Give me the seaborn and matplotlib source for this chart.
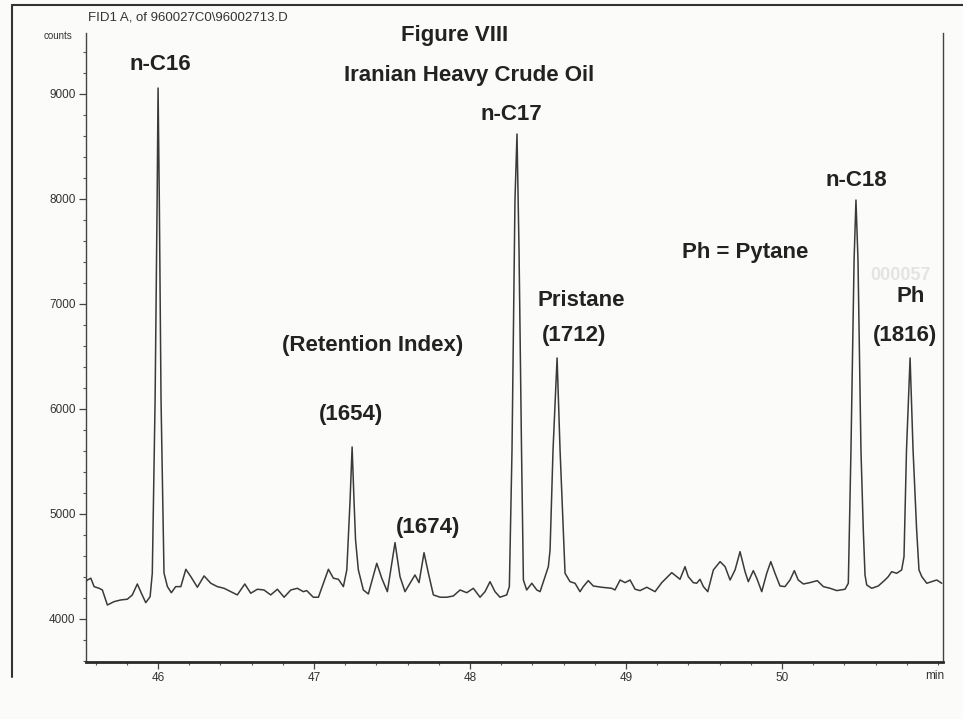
import numpy as np
import pandas as pd
import matplotlib
matplotlib.use("Agg")
import matplotlib.pyplot as plt
from matplotlib.ticker import MultipleLocator, FixedLocator
import seaborn as sns

# ---------------- data ----------------
retention_time_min = [
    45.540, 45.547, 45.569, 45.590, 45.622, 45.643, 45.675, 45.718, 45.761, 45.803,
    45.835, 45.867, 45.893, 45.921, 45.949, 45.963, 45.981, 45.994, 46.000, 46.008,
    46.019, 46.038, 46.060, 46.085, 46.113, 46.146, 46.178, 46.210, 46.252, 46.295,
    46.338, 46.380, 46.423, 46.466, 46.508, 46.556, 46.594, 46.637, 46.679, 46.722,
    46.765, 46.808, 46.851, 46.893, 46.931, 46.953, 46.995, 47.028, 47.060, 47.092,
    47.124, 47.156, 47.188, 47.210, 47.231, 47.244, 47.256, 47.266, 47.284, 47.316,
    47.348, 47.402, 47.434, 47.470, 47.519, 47.551, 47.583, 47.615, 47.647, 47.673,
    47.705, 47.733, 47.765, 47.808, 47.851, 47.893, 47.936, 47.979, 48.021, 48.064,
    48.096, 48.128, 48.160, 48.192, 48.235, 48.252, 48.269, 48.288, 48.301, 48.314,
    48.330, 48.342, 48.363, 48.396, 48.428, 48.449, 48.481, 48.502, 48.513, 48.532,
    48.558, 48.577, 48.598, 48.609, 48.641, 48.673, 48.705, 48.726, 48.758, 48.790,
    48.844, 48.908, 48.929, 48.962, 48.994, 49.026, 49.058, 49.090, 49.133, 49.165,
    49.186, 49.229, 49.293, 49.325, 49.346, 49.378, 49.399, 49.431, 49.453, 49.474,
    49.496, 49.524, 49.560, 49.603, 49.635, 49.667, 49.699, 49.731, 49.763, 49.784,
    49.816, 49.838, 49.870, 49.902, 49.928, 49.955, 49.987, 50.019, 50.051, 50.079,
    50.104, 50.137, 50.179, 50.226, 50.265, 50.308, 50.351, 50.404, 50.425, 50.442,
    50.462, 50.474, 50.487, 50.506, 50.521, 50.532, 50.543, 50.575, 50.617, 50.660,
    50.681, 50.703, 50.735, 50.767, 50.782, 50.798, 50.821, 50.840, 50.863, 50.878,
    50.896, 50.928, 50.960, 50.992, 51.024,
]
detector_counts = [
    4360, 4371, 4388, 4308, 4292, 4276, 4133, 4165, 4181, 4188,
    4229, 4333, 4245, 4155, 4212, 4435, 6086, 7990, 9057, 7990,
    6086, 4438, 4308, 4250, 4308, 4308, 4473, 4403, 4302, 4410,
    4340, 4308, 4292, 4260, 4229, 4333, 4245, 4283, 4276, 4229,
    4283, 4207, 4276, 4292, 4260, 4270, 4207, 4207, 4340, 4473,
    4388, 4378, 4308, 4467, 5133, 5638, 5133, 4752, 4467, 4276,
    4238, 4530, 4388, 4260, 4727, 4403, 4260, 4340, 4419, 4346,
    4631, 4435, 4229, 4207, 4207, 4219, 4276, 4250, 4292, 4207,
    4260, 4355, 4260, 4207, 4229, 4308, 5610, 7990, 8619, 7514,
    5610, 4371, 4276, 4340, 4276, 4260, 4403, 4498, 4657, 5610,
    6486, 5610, 4848, 4435, 4355, 4340, 4260, 4308, 4365, 4314,
    4302, 4292, 4276, 4371, 4346, 4371, 4283, 4270, 4302, 4276,
    4260, 4346, 4441, 4403, 4378, 4498, 4403, 4346, 4340, 4378,
    4308, 4260, 4467, 4546, 4498, 4371, 4467, 4641, 4450, 4355,
    4460, 4388, 4260, 4435, 4546, 4435, 4314, 4308, 4371, 4460,
    4371, 4333, 4346, 4365, 4308, 4292, 4270, 4283, 4340, 5610,
    7419, 7990, 7419, 5610, 4848, 4419, 4324, 4292, 4314, 4371,
    4403, 4450, 4435, 4467, 4593, 5610, 6486, 5610, 4848, 4467,
    4403, 4340, 4355, 4371, 4340,
]

y_tick_values = [4000, 5000, 6000, 7000, 8000, 9000]
x_tick_values = [46, 47, 48, 49, 50]
x_tick_labels = ["46", "47", "48", "49", "50"]

# annotation texts and their pixel centres
peak_labels = ["n-C16", "n-C17", "n-C18", "Pristane", "(1712)", "Ph", "(1816)",
               "(1654)", "(1674)", "(Retention Index)", "Ph = Pytane",
               "Figure VIII", "Iranian Heavy Crude Oil"]
label_px = [(160, 65), (511, 115), (856, 181), (581, 300), (574, 336), (911, 296),
            (905, 336), (351, 415), (428, 527), (373, 345), (745, 253),
            (455, 36), (469, 76)]

# ---------------- figure ----------------
W, H = 963, 719
sns.set_theme(style="white")
plt.rcParams["font.family"] = ["Liberation Sans", "DejaVu Sans"]

fig = plt.figure(figsize=(W / 100, H / 100), dpi=100, facecolor="#fbfbf9")
ax = fig.add_axes([86 / W, 1 - 662 / H, (943 - 86) / W, (662 - 33) / H])
ax.set_facecolor("#fbfbf9")

df = pd.DataFrame({"time": retention_time_min, "counts": detector_counts})
sns.lineplot(data=df, x="time", y="counts", ax=ax, color="#3a3a3a",
             linewidth=1.1, estimator=None, sort=False)

ax.set_xlim(45.538, 51.032)
ax.set_ylim(3590, 9581)
ax.set_xlabel("")
ax.set_ylabel("")

ax.yaxis.set_major_locator(FixedLocator(y_tick_values))
ax.yaxis.set_minor_locator(MultipleLocator(200))
ax.set_yticklabels([str(v) for v in y_tick_values])
ax.xaxis.set_major_locator(FixedLocator(x_tick_values))
ax.xaxis.set_minor_locator(MultipleLocator(0.2))
ax.set_xticklabels(x_tick_labels)

ax.tick_params(axis="both", which="major", direction="out", length=5, width=0.9,
               color="#444444", labelsize=8.5, labelcolor="#333333", pad=2.5)
ax.tick_params(axis="both", which="minor", direction="out", length=2.5, width=0.8,
               color="#555555")
ax.tick_params(bottom=True, left=True, which="both")

for side in ["left", "right"]:
    ax.spines[side].set_color("#444444")
    ax.spines[side].set_linewidth(1.0)
ax.spines["top"].set_visible(False)
ax.spines["bottom"].set_color("#2a2a2a")
ax.spines["bottom"].set_linewidth(2.0)

ax.text(50.98, -0.022, "min", transform=ax.get_xaxis_transform(),
        ha="center", va="center", fontsize=8.5, color="#333333")

for txt, (px, py) in zip(peak_labels, label_px):
    fig.text(px / W, 1 - py / H, txt, ha="center", va="center", fontsize=16,
             fontweight="bold", color="#222222")

# faint scanned stamp
fig.text(900 / W, 1 - 276 / H, "000057", ha="center", va="center", fontsize=13,
         fontweight="bold", color="#e4e4e4")

# header / unit
fig.text(88 / W, 1 - 17 / H, "FID1 A, of 960027C0\\96002713.D", ha="left",
         va="center", fontsize=9.5, color="#333333")
fig.text(72 / W, 1 - 36 / H, "counts", ha="right", va="center", fontsize=7,
         color="#333333")

# outer page frame (partial, as scanned)
fig.add_artist(plt.Line2D([12 / W, 1.0], [1 - 5 / H, 1 - 5 / H],
                          transform=fig.transFigure, color="#333333", lw=1.5))
fig.add_artist(plt.Line2D([12 / W, 12 / W], [1 - 5 / H, 1 - 677 / H],
                          transform=fig.transFigure, color="#333333", lw=1.5))

fig.savefig("out.png", dpi=100, facecolor=fig.get_facecolor())
